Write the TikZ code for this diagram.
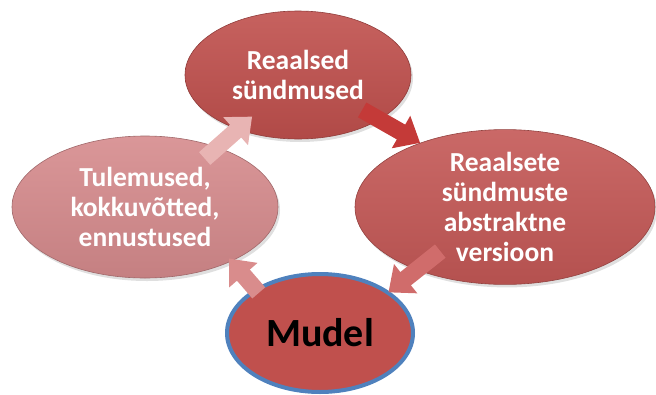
\documentclass[tikz,border=0pt]{standalone}
\usepackage{fontspec}
\setmainfont{Carlito}
\usetikzlibrary{shapes.geometric,arrows.meta,calc,shadows}
\definecolor{redA}{HTML}{C0504D}
\definecolor{redB}{HTML}{C45856}
\definecolor{pinkA}{HTML}{D68B8D}
\definecolor{blueB}{HTML}{4F81BD}
\definecolor{arrA}{HTML}{C43A38}
\definecolor{arrB}{HTML}{D06C6B}
\definecolor{arrC}{HTML}{D98C8C}
\definecolor{arrD}{HTML}{E8B4B3}
\tikzset{
  blob/.style={ellipse, inner sep=0pt, align=center, text=white,
    font=\fontsize{27.5}{30}\selectfont\bfseries,
    draw=#1!75!black, line width=0.6pt,
    top color=#1!90!white, bottom color=#1!92!black,
    drop shadow={shadow xshift=2pt, shadow yshift=-3pt, opacity=0.25}},
  fatarrow/.style={line width=17pt, draw=#1,
    -{Triangle[width=36pt,length=22pt]}}
}
\begin{document}
\begin{tikzpicture}[x=1pt,y=-1pt]
\useasboundingbox (0,0) rectangle (656,394);
\node[blob=redA, minimum width=226pt, minimum height=128pt] (top) at (298,75) {Reaalsed\\sündmused};
\node[blob=redB, minimum width=300pt, minimum height=145pt] (right) at (505,207) {Reaalsete\\sündmuste\\abstraktne\\versioon};
\node[blob=pinkA, minimum width=266pt, minimum height=142pt] (left) at (145,207) {Tulemused,\\kokkuvõtted,\\ennustused};
\node[ellipse, inner sep=0pt, minimum width=186pt, minimum height=118pt,
  fill=redA, draw=blueB, line width=4pt,
  font=\fontsize{40}{44}\selectfont\bfseries, text=black] (mudel) at (320,333) {Mudel};
\draw[fatarrow=arrA] ($(top)!0.31!(right)+(0,-6)$) -- ($(top)!0.59!(right)+(0,-10)$);
\draw[fatarrow=arrB] ($(right)!0.35!(mudel)$) -- ($(right)!0.63!(mudel)+(0,6)$);
\draw[fatarrow=arrC] ($(mudel)!0.35!(left)+(0,4)$) -- ($(mudel)!0.52!(left)+(0,-9)$);
\draw[fatarrow=arrD] ($(left)!0.39!(top)+(0,3)$) -- ($(left)!0.70!(top)+(0,2)$);
\end{tikzpicture}
\end{document}
